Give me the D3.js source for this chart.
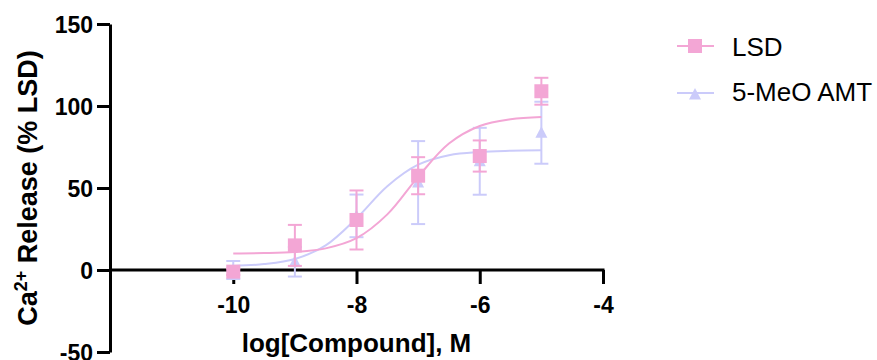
<!DOCTYPE html>
<html>
<head>
<meta charset="utf-8">
<script src="https://cdn.jsdelivr.net/npm/d3@7"></script>
<style>
  body { margin: 0; background: #fff; }
  svg { display: block; font-family: Arial, "Liberation Sans", sans-serif; }
</style>
</head>
<body>
<svg id="chart"></svg>
<script>
(function () {
    // measured points
    var logConc = [-10, -9, -8, -7, -6, -5];
    var lsdMean = [-1, 15, 30.5, 57.5, 69.5, 109];
    var lsdSem = [2, 12.5, 18, 11.3, 9.5, 8.2];
    var amtMean = [0, 5, 33, 53.3, 66.3, 83.7];
    var amtSem = [5.5, 9, 13, 25.3, 20.4, 18.9];

    // fitted curves, every half log unit
    var curveX = [-10, -9.5, -9, -8.5, -8, -7.5, -7, -6.5, -6, -5.5, -5];
    var lsdCurve = [10.1, 10.3, 11.0, 13.2, 19.4, 33.9, 56.8, 77.1, 87.8, 91.9, 93.3];
    var amtCurve = [2.5, 3.6, 6.7, 15.0, 31.5, 51.1, 64.2, 70.0, 72.0, 72.7, 73.0];

    var xTicks = [-10, -8, -6, -4];
    var yTicks = [-50, 0, 50, 100, 150];

    var pink = "#f3a6d5",
        lavender = "#cbcbfa";

    var width = 877,
        height = 360;

    var svg = d3.select("#chart")
        .attr("width", width)
        .attr("height", height);

    var x = d3.scaleLinear().domain([-12, -4]).range([110, 603]);
    var y = d3.scaleLinear().domain([-50, 150]).range([352, 24]);

    // axes (plain hyphen for negatives, like the original)
    var yAxis = svg.append("g")
        .attr("transform", "translate(" + x(-12) + ",0)")
        .call(d3.axisLeft(y).tickValues(yTicks).tickFormat(String)
            .tickSize(13).tickPadding(4).tickSizeOuter(0));

    var xAxis = svg.append("g")
        .attr("transform", "translate(0," + y(0) + ")")
        .call(d3.axisBottom(x).tickValues(xTicks).tickFormat(String)
            .tickSize(14).tickPadding(13).tickSizeOuter(0));

    [yAxis, xAxis].forEach(function (ax) {
        ax.select(".domain").attr("stroke", "#000").attr("stroke-width", 3);
        ax.selectAll(".tick line").attr("stroke", "#000").attr("stroke-width", 3);
        ax.selectAll(".tick text")
            .attr("fill", "#000")
            .attr("font-size", 23)
            .attr("font-weight", "bold")
            .attr("font-family", "Arial, 'Liberation Sans', sans-serif");
    });
    yAxis.selectAll(".tick text").attr("dy", "0.36em");
    xAxis.selectAll(".tick text").attr("dy", "0.71em");
    // the -12 end of the x axis sits on the y axis
    xAxis.select(".domain").attr("d", "M" + x(-12) + ",0H" + (x(-4) + 1.5));

    // axis titles
    svg.append("text")
        .attr("x", (x(-12) + x(-4)) / 2)
        .attr("y", 352)
        .attr("text-anchor", "middle")
        .attr("font-size", 26)
        .attr("font-weight", "bold")
        .text("log[Compound], M");

    var yTitle = svg.append("text")
        .attr("transform", "translate(37," + 188 + ") rotate(-90)")
        .attr("text-anchor", "middle")
        .attr("font-size", 27)
        .attr("font-weight", "bold");
    yTitle.append("tspan").text("Ca");
    yTitle.append("tspan").attr("font-size", 18).attr("dy", -10).text("2+");
    yTitle.append("tspan").attr("dy", 10).text(" Release (% LSD)");

    var line = d3.line()
        .x(function (d) { return x(d[0]); })
        .y(function (d) { return y(d[1]); })
        .curve(d3.curveCatmullRom);

    function triangle(g) {
        return g.append("path").attr("d", "M0,-6.5L6,5L-6,5Z");
    }
    function square(g) {
        return g.append("rect").attr("x", -7).attr("y", -7).attr("width", 14).attr("height", 14);
    }

    function drawSeries(means, sems, curve, color, marker) {
        var g = svg.append("g");
        g.append("path")
            .datum(curveX.map(function (v, i) { return [v, curve[i]]; }))
            .attr("fill", "none")
            .attr("stroke", color)
            .attr("stroke-width", 2)
            .attr("d", line);

        var pts = logConc.map(function (v, i) { return {x: v, m: means[i], s: sems[i]}; });
        var eb = g.selectAll("g.err").data(pts).enter().append("g")
            .attr("stroke", color).attr("stroke-width", 2);
        eb.append("line")
            .attr("x1", function (d) { return x(d.x); })
            .attr("x2", function (d) { return x(d.x); })
            .attr("y1", function (d) { return y(d.m - d.s); })
            .attr("y2", function (d) { return y(d.m + d.s); });
        [-1, 1].forEach(function (sgn) {
            eb.append("line")
                .attr("x1", function (d) { return x(d.x) - 7; })
                .attr("x2", function (d) { return x(d.x) + 7; })
                .attr("y1", function (d) { return y(d.m + sgn * d.s); })
                .attr("y2", function (d) { return y(d.m + sgn * d.s); });
        });

        g.selectAll("g.pt").data(pts).enter().append("g")
            .attr("transform", function (d) { return "translate(" + x(d.x) + "," + y(d.m) + ")"; })
            .each(function () { marker(d3.select(this)).attr("fill", color); });
    }

    drawSeries(amtMean, amtSem, amtCurve, lavender, triangle);
    drawSeries(lsdMean, lsdSem, lsdCurve, pink, square);

    // legend
    var legend = [
        {name: "LSD", color: pink, marker: square, ly: 46, ty: 56},
        {name: "5-MeO AMT", color: lavender, marker: triangle, ly: 93, ty: 101}
    ];
    legend.forEach(function (l) {
        var g = svg.append("g");
        g.append("line").attr("x1", 677).attr("x2", 714).attr("y1", l.ly).attr("y2", l.ly)
            .attr("stroke", l.color).attr("stroke-width", 2);
        var m = g.append("g").attr("transform", "translate(695," + (l.ly + (l.marker === triangle ? 1.5 : 0)) + ")");
        l.marker(m).attr("fill", l.color);
        g.append("text").attr("x", 732).attr("y", l.ty).attr("font-size", 26).attr("fill", "#000").text(l.name);
    });
})();
</script>
</body>
</html>
